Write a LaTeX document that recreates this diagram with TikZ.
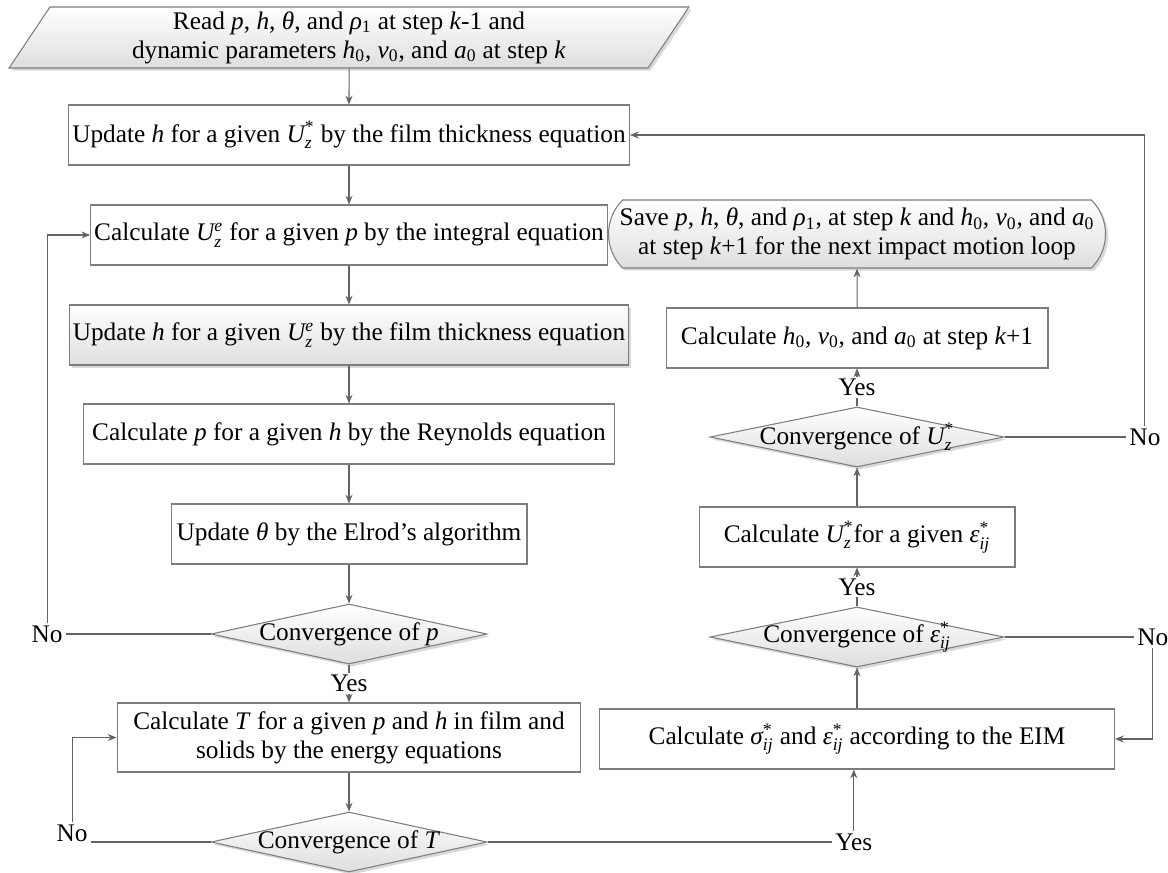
\documentclass[tikz,border=0pt]{standalone}
\usepackage{fontspec}
\setmainfont{Liberation Serif}
\usepackage{amsmath}
\usetikzlibrary{
  shapes.geometric, shapes.misc,
  arrows.meta,
  positioning, shadows
}
\definecolor{linegray}{RGB}{100,100,100}
\definecolor{edgegray}{RGB}{125,125,125}
\definecolor{shadegray}{RGB}{222,222,222}
\newcommand{\fsize}{\fontsize{14.4}{16.5}\selectfont}
\newcommand{\Uz}[1]{$\textit{U}^{#1}_{\textit{z}}$}
\newcommand{\epsij}{$\textit{ε}^{\text{*}}_{\textit{ij}}$}
\newcommand{\sigij}{$\textit{σ}^{\text{*}}_{\textit{ij}}$}
\newcommand{\vz}[1]{\textit{#1}\textsubscript{0}}
\tikzset{
  procbox/.style={rectangle,draw=edgegray,fill=white,line width=0.6pt,
    minimum height=1.2cm,inner sep=2pt,align=center,font=\fsize},
  shadebox/.style={procbox,top color=white,bottom color=shadegray,
    drop shadow={shadow xshift=1.5pt,shadow yshift=-1.5pt,opacity=0.3}},
  iobox/.style={trapezium,trapezium left angle=63,trapezium right angle=117,
    trapezium stretches=true,draw=edgegray,line width=0.6pt,
    top color=white,bottom color=shadegray,minimum width=13.64cm,minimum height=1.22cm,
    inner sep=2pt,align=center,font=\fsize,
    drop shadow={shadow xshift=1.5pt,shadow yshift=-1.5pt,opacity=0.3}},
  termbox/.style={rounded rectangle,rounded rectangle arc length=90,draw=edgegray,
    line width=0.6pt,top color=white,bottom color=shadegray,
    minimum width=9.74cm,minimum height=1.36cm,inner sep=2pt,align=center,font=\fsize,
    drop shadow={shadow xshift=1.5pt,shadow yshift=-1.5pt,opacity=0.3}},
  decision/.style={diamond,aspect=4.6,draw=edgegray,line width=0.6pt,
    top color=white,bottom color=shadegray,minimum height=1.2cm,inner sep=-4pt,
    font=\fsize,drop shadow={shadow xshift=1.5pt,shadow yshift=-1.5pt,opacity=0.3}},
  lbl/.style={fill=white,inner sep=1pt,font=\fsize},
  txt/.style={inner sep=1.5pt,font=\fsize},
  ln/.style={draw=linegray,line width=0.6pt},
  arr/.style={-{Stealth[length=5pt,width=4pt]},draw=linegray,line width=0.6pt}
}

\begin{document}
\begin{tikzpicture}[x=0.02cm,y=-0.02cm]
  \useasboundingbox (0,0) rectangle (1168,872);

  % left column
  \node[iobox] (rd) at (349,37.5) {Read \textit{p}, \textit{h}, \textit{θ}, and \textit{ρ}\textsubscript{1} at step \textit{k}-1 and\\dynamic parameters \vz{h}, \vz{v}, and \vz{a} at step \textit{k}};
  \node[procbox,minimum width=11.22cm] (b1) at (349,135) {Update \textit{h} for a given \Uz{\text{*}} by the film thickness equation};
  \node[procbox,minimum width=10.28cm] (b2) at (349,235) {Calculate \Uz{\textit{e}} for a given \textit{p} by the integral equation};
  \node[shadebox,minimum width=11.18cm] (b3) at (349,335) {Update \textit{h} for a given \Uz{\textit{e}} by the film thickness equation};
  \node[procbox,minimum width=10.64cm] (b4) at (349,434) {Calculate \textit{p} for a given \textit{h} by the Reynolds equation};
  \node[procbox,minimum width=7.12cm] (b5) at (349,534) {Update \textit{θ} by the Elrod's algorithm};
  \node[decision,minimum width=5.52cm] (dp) at (349,634) {Convergence of \textit{p}};
  \node[procbox,minimum width=9.28cm,minimum height=1.38cm] (b6) at (349,737.5) {Calculate \textit{T} for a given \textit{p} and \textit{h} in film and\\solids by the energy equations};
  \node[decision,minimum width=5.52cm] (dT) at (349,842) {Convergence of \textit{T}};

  % right column
  \node[termbox] (sv) at (857,234) {Save \textit{p}, \textit{h}, \textit{θ}, and \textit{ρ}\textsubscript{1}, at step \textit{k} and \vz{h}, \vz{v}, and \vz{a}\\at step \textit{k}+1 for the next impact motion loop};
  \node[procbox,minimum width=7.64cm] (bh) at (857,338) {Calculate \vz{h}, \vz{v}, and \vz{a} at step \textit{k}+1};
  \node[decision,minimum width=5.88cm] (dU) at (857,437) {Convergence of \Uz{\text{*}}};
  \node[procbox,minimum width=6.32cm] (bU) at (857,537) {Calculate \Uz{\text{*}}for a given \epsij};
  \node[decision,minimum width=5.88cm] (dE) at (857,637) {Convergence of \epsij};
  \node[procbox,minimum width=10.3cm] (eim) at (857,739) {Calculate \sigij{} and \epsij{} according to the EIM};

  % branch labels
  \node[txt,left=2.9cm of dp] (noP) {No};
  \node[txt,left=2.4cm of dT,yshift=0.18cm] (noT) {No};
  \node[txt,right=2.44cm of dU] (noU) {No};
  \node[txt,right=2.6cm of dE] (noE) {No};
  \node[txt,right=6.9cm of dT] (yesT) {Yes};

  % main flow
  \draw[arr] (rd) -- (b1);
  \draw[arr] (b1) -- (b2);
  \draw[arr] (b2) -- (b3);
  \draw[arr] (b3) -- (b4);
  \draw[arr] (b4) -- (b5);
  \draw[arr] (b5) -- (dp);
  \draw[arr] (dp) -- node[lbl] (yesP) {Yes} (b6);
  \draw[arr] (b6) -- (dT);

  \draw[ln] (dT.east) -- (yesT.west);
  \draw[arr] (yesT.north) -- (yesT.north |- eim.south);
  \draw[arr] (eim) -- (dE);
  \draw[arr] (dE) -- node[lbl] (yesE) {Yes} (bU);
  \draw[arr] (bU) -- (dU);
  \draw[arr] (dU) -- node[lbl] (yesU) {Yes} (bh);
  \draw[arr] (bh) -- (sv);

  % loops
  \draw[ln] (dp.west) -- (noP.east);
  \draw[arr] (noP.north) |- (b2.west);
  \draw[ln] (dT.west) -- (dT.west -| noT.east);
  \draw[arr] (noT.north) |- (b6.west);
  \draw[ln] (dU.east) -- (noU.west);
  \draw[arr] (noU.north) |- (b1.east);
  \draw[ln] (dE.east) -- (noE.west);
  \draw[arr] (noE.south) |- (eim.east);

\end{tikzpicture}
\end{document}
